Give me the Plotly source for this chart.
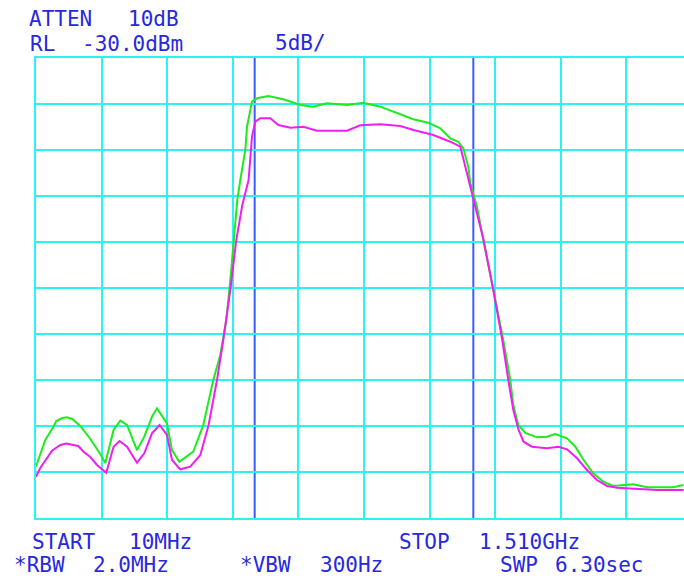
import plotly.graph_objects as go

# Sweep settings shown on the analyzer display
START_MHZ = 10
STOP_MHZ = 1510
REF_LEVEL_DBM = -30.0
DB_PER_DIV = 5
N_DIV = 10

# Upper trace (green)
green_freq_mhz = [
    10, 19.8, 31.3, 50.2, 56.4, 70.1, 80.9, 93.0, 111.3, 134.2, 157.0, 168.5, 187.4, 202.8,
    218.1, 240.9, 257.6, 275.2, 286.7, 309.5, 321, 337.7, 369.7, 392.5, 415.4, 431.4, 445.1,
    454.3, 461.1, 470.3, 477.2, 488.6, 492.5, 503.9, 515.3, 541.2, 575.5, 614.4, 644.1, 675.4,
    721.1, 758.4, 797.3, 835.5, 872.7, 907, 934.5, 957.4, 975.7, 987.1, 998.5, 1003.1, 1018.4,
    1032.8, 1055.7, 1078.5, 1094.5, 1101.4, 1112.8, 1128.8, 1155.6, 1178.4, 1197.4,
    1224.2, 1243.2, 1262.1, 1284.3, 1307.2, 1330, 1375.8, 1407.1, 1467.3, 1490.1,
]
green_level_dbm = [
    -74.4, -72.97, -71.52, -70.07, -69.46, -69.13, -69.06, -69.24, -70.0, -71.41, -73.04, -74.02,
    -70.43, -69.42, -69.89, -72.61, -71.16, -69.0, -68.08, -69.71, -72.61, -73.88, -72.79, -69.89,
    -65.0, -62.28, -58.48, -54.13, -50.0, -45.43, -43.26, -40.0, -37.47, -34.75, -34.38, -34.13,
    -34.49, -35.11, -35.29, -34.92, -35.11, -34.86, -35.29, -36.01, -36.66, -37.03, -37.64, -38.73,
    -39.10, -39.82, -41.82, -43.59, -46.16, -49.78, -55.22, -60.65, -65.0, -67.72, -69.89, -70.76,
    -71.23, -71.16, -70.87, -71.34, -72.25, -73.70, -75.14, -76.05, -76.52, -76.34, -76.66,
    -76.66, -76.41,
]

# Lower trace (magenta)
magenta_freq_mhz = [
    10, 19.8, 46.6, 65.6, 79.3, 92.3, 106.7, 118.8, 134.2, 149.5, 170.7, 187.4, 201.2, 218.1,
    240.9, 257.6, 275.2, 292.6, 309.5, 321, 340, 362.8, 385.7, 404.7, 423.9, 438.3, 454.3,
    468, 481.8, 496.1, 503.9, 511.4, 522.9, 545.7, 564, 591.5, 621.2, 652.5, 689.8,
    721.1, 751.5, 797.3, 843, 873.4, 918.5, 957.4, 980.3, 995.5, 1010.6, 1033.5, 1055.7,
    1076.2, 1090, 1101.4, 1113.5, 1124.9, 1144.1, 1178.4, 1205, 1224.2, 1247.1, 1269.9,
    1292.8, 1315.6, 1338.5, 1391.8, 1430, 1490.8,
]
magenta_level_dbm = [
    -75.51, -74.57, -72.68, -72.07, -71.90, -71.99, -72.17, -72.79, -73.37, -74.24, -75.08, -72.25,
    -71.63, -72.25, -73.99, -72.97, -70.79, -69.89, -70.98, -73.70, -74.71, -74.42, -73.15, -69.89,
    -65.0, -60.65, -55.22, -49.78, -45.98, -43.26, -38.55, -36.92, -36.55, -36.55, -37.28, -37.58,
    -37.47, -37.90, -37.93, -37.90, -37.32, -37.21, -37.39, -37.83, -38.37, -39.10, -39.64, -42.50,
    -45.43, -49.78, -55.22, -60.65, -65.0, -68.26, -70.43, -71.71, -72.25, -72.42, -72.25, -72.53,
    -73.51, -74.78, -75.87, -76.52, -76.71, -76.82, -76.96, -76.96,
]

# Vertical marker lines
marker_freq_mhz = [510, 1010]

# Annotation text: (word, left pixel, center pixel row)
header_words = [
    ("ATTEN", 27, 19), ("10dB", 126, 19),
    ("RL", 28, 44), ("-30.0dBm", 80, 44), ("5dB/", 273, 43),
]
footer_words = [
    ("START", 30, 542), ("10MHz", 127, 542), ("STOP", 397, 542), ("1.510GHz", 477, 542),
    ("*RBW", 12, 565), ("2.0MHz", 91, 565), ("*VBW", 238, 565), ("300Hz", 318, 565),
    ("SWP", 498, 565), ("6.30sec", 553, 565),
]

W, H = 684, 580
ML, MR, MT, MB = 36, 0, 58, 62
PLOT_W = W - ML - MR
PLOT_H = H - MT - MB
DIV_PX = 65.6  # horizontal division width in pixels
freq_per_div = (STOP_MHZ - START_MHZ) / N_DIV
x_max = START_MHZ + PLOT_W / DIV_PX * freq_per_div

GRID = "#2CF2F2"
TEXT = "#2828E0"
MARKER = "#3A5BFF"
FONT = "DejaVu Sans Mono"

fig = go.Figure()
fig.add_trace(go.Scatter(x=green_freq_mhz, y=green_level_dbm, mode="lines",
                         line=dict(color="#1EEB1E", width=2), hoverinfo="skip"))
fig.add_trace(go.Scatter(x=magenta_freq_mhz, y=magenta_level_dbm, mode="lines",
                         line=dict(color="#F01EF0", width=2), hoverinfo="skip"))

for f in marker_freq_mhz:
    fig.add_shape(type="line", xref="x", yref="paper", x0=f, x1=f, y0=0, y1=1,
                  line=dict(color=MARKER, width=2), layer="below")

bottom_dbm = REF_LEVEL_DBM - DB_PER_DIV * N_DIV
fig.update_xaxes(
    range=[START_MHZ, x_max],
    tickvals=[START_MHZ + i * freq_per_div for i in range(N_DIV)],
    showticklabels=False, ticks="",
    showgrid=True, gridcolor=GRID, gridwidth=2,
    showline=True, linecolor=GRID, linewidth=2, mirror=True,
    zeroline=False,
)
fig.update_yaxes(
    range=[bottom_dbm, REF_LEVEL_DBM],
    tickvals=[REF_LEVEL_DBM - i * DB_PER_DIV for i in range(N_DIV + 1)],
    showticklabels=False, ticks="",
    showgrid=True, gridcolor=GRID, gridwidth=2,
    showline=True, linecolor=GRID, linewidth=2, mirror=False,
    zeroline=False,
)


def px_to_paper(px, py):
    return (px - ML) / PLOT_W, (H - MB - py) / PLOT_H


for word, px, py in header_words + footer_words:
    xp, yp = px_to_paper(px, py)
    fig.add_annotation(text=word, x=xp, y=yp, xref="paper", yref="paper",
                       xanchor="left", yanchor="middle", showarrow=False,
                       font=dict(family=FONT, size=21, color=TEXT))

fig.update_layout(
    width=W, height=H,
    margin=dict(l=ML, r=MR, t=MT, b=MB),
    paper_bgcolor="white", plot_bgcolor="white",
    showlegend=False,
)

fig.write_html("out.html")
